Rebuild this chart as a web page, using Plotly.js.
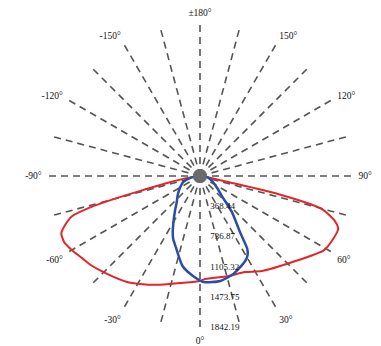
<!DOCTYPE html>
<html>
<head>
<meta charset="utf-8">
<script src="https://cdn.plot.ly/plotly-3.0.1.min.js"></script>
<style>html,body{margin:0;padding:0;background:#fff;}#chart{width:381px;height:346px;}</style>
</head>
<body>
<div id="chart"></div>
<script>
// Red curve (C0-180 plane): angle (deg, 0 = down, +right), intensity (cd)
const redTheta = [-90, -82, -78, -76, -75, -74, -72.5, -70, -67.5, -64, -61.5, -59, -55, -51, -43.5, -34.6, -29, -21.5, -10.6, 0,
                  2.8, 15.6, 25, 33, 48, 59, 64, 69, 71.6, 74.9, 77, 78, 82, 90];
const redR = [0, 120, 400, 750, 1100, 1400, 1640, 1750, 1830, 1842, 1820, 1795, 1750, 1719, 1646, 1569, 1505, 1426, 1327, 1280,
              1256, 1268, 1292, 1382, 1554, 1760, 1792, 1804, 1731, 1536, 975, 350, 80, 0];
// Blue curve (C90-270 plane)
const blueTheta = [-90, -80, -70, -60, -50, -42, -35, -30, -26, -23, -18, -11, -4, 2, 11, 19, 28, 31, 33, 35.5, 41.5, 47.5, 55, 65, 80, 90];
const blueR = [0, 110, 219, 280, 354, 423, 536, 646, 758, 835, 933, 1117, 1221, 1292, 1303, 1260, 1173, 1126, 1058, 839, 588, 362, 256, 174, 98, 0];
// Radial tick labels
const radialTickVals = [368.44, 736.87, 1105.32, 1473.75, 1842.19];
const radialTickText = ['368.44', '736.87', '1105.32', '1473.75', '1842.19'];
// Angular spokes every 15 deg, labels every 30 deg
const angTickVals = [0, 15, 30, 45, 60, 75, 90, 105, 120, 135, 150, 165, 180, 195, 210, 225, 240, 255, 270, 285, 300, 315, 330, 345];
const angTickText = ['0°', '', '30°', '', '60°', '', '90°', '', '120°', '', '150°', '', '±180°', '', '-150°', '', '-120°', '', '-90°', '', '-60°', '', '-30°', ''];

const traces = [
  {type: 'scatterpolar', mode: 'lines', theta: redTheta, r: redR, line: {color: '#e3262a', width: 2, shape: 'spline', smoothing: 0.6}, hoverinfo: 'skip'},
  {type: 'scatterpolar', mode: 'lines', theta: blueTheta, r: blueR, line: {color: '#2a4ea6', width: 2.5, shape: 'spline', smoothing: 0.6}, hoverinfo: 'skip'},
  {type: 'scatterpolar', mode: 'markers', theta: [0], r: [0], marker: {color: '#6b6b6b', size: 14}, hoverinfo: 'skip'}
];

const layout = {
  width: 381, height: 346,
  margin: {l: 47, r: 28, t: 23, b: 17},
  paper_bgcolor: '#fff',
  showlegend: false,
  font: {family: 'Liberation Serif, serif', size: 9, color: '#111'},
  polar: {
    bgcolor: '#fff',
    domain: {x: [0, 1], y: [0, 1]},
    angularaxis: {
      rotation: 270, direction: 'counterclockwise',
      tickmode: 'array', tickvals: angTickVals, ticktext: angTickText,
      showline: false, ticks: 'outside', ticklen: 3, tickcolor: 'rgba(0,0,0,0)',
      showgrid: true, gridcolor: '#555', gridwidth: 1.6, griddash: '7px,5px',
      tickfont: {family: 'Liberation Serif, serif', size: 9.5, color: '#111'}
    },
    radialaxis: {
      range: [0, 1865], angle: 270, side: 'counterclockwise',
      tickmode: 'array', tickvals: radialTickVals, ticktext: radialTickText,
      showline: false, showgrid: false, ticks: 'outside', ticklen: 8, tickcolor: 'rgba(0,0,0,0)', tickangle: -90,
      tickfont: {family: 'Liberation Serif, serif', size: 9, color: '#111'}
    }
  }
};

Plotly.newPlot('chart', traces, layout, {displayModeBar: false, staticPlot: true});
</script>
</body>
</html>
